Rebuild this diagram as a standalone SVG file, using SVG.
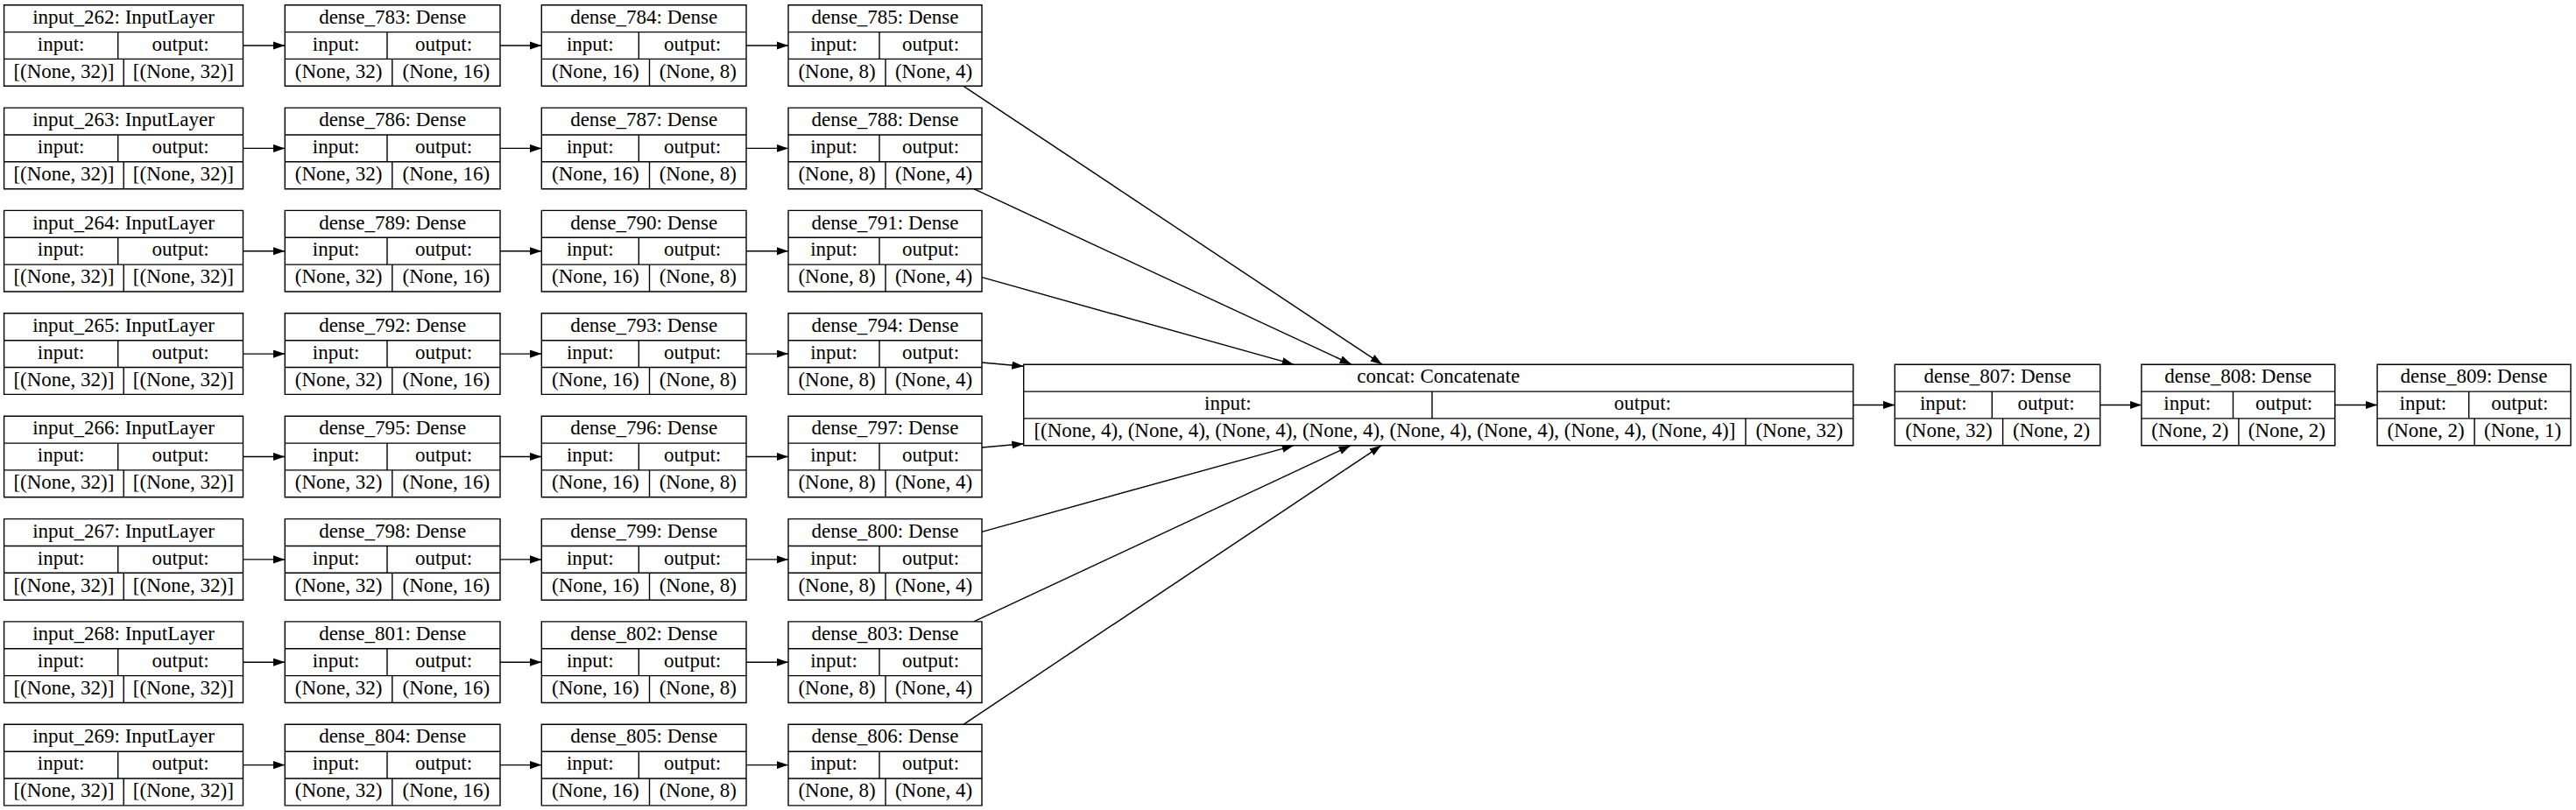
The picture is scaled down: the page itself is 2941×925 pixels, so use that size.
<svg xmlns="http://www.w3.org/2000/svg" xmlns:xlink="http://www.w3.org/1999/xlink" width="2941" height="925" viewBox="0 0 2941 925">
<style>
.f{fill:#fff;stroke:#000;stroke-width:1.4}
.t{font-family:"Liberation Serif","Times New Roman",serif;font-size:23px;text-anchor:middle;fill:#000}
.e{stroke:#000;stroke-width:1.4;fill:none;marker-end:url(#ah)}
</style>
<defs>
<marker id="ah" markerUnits="userSpaceOnUse" markerWidth="14" markerHeight="10" refX="13.4" refY="4.6" orient="auto"><path d="M0,0 L13.4,4.6 L0,9.2 z" fill="#000"/></marker>
<path id="frA" class="f" d="M4.6,0 H277.5 V92.6 H4.6 Z M4.6,30.9 H277.5 M4.6,61.7 H277.5 M134.7,30.9 V61.7 M141.2,61.7 V92.6"/>
<path id="frB" class="f" d="M325.3,0 H571 V92.6 H325.3 Z M325.3,30.9 H571 M325.3,61.7 H571 M442,30.9 V61.7 M447.8,61.7 V92.6"/>
<path id="frC" class="f" d="M618.3,0 H852 V92.6 H618.3 Z M618.3,30.9 H852 M618.3,61.7 H852 M729.3,30.9 V61.7 M741.5,61.7 V92.6"/>
<path id="frD" class="f" d="M900,0 H1121 V92.6 H900 Z M900,30.9 H1121 M900,61.7 H1121 M1004,30.9 V61.7 M1011,61.7 V92.6"/>
</defs>
<rect width="2941" height="925" fill="#fff"/>

<g id="connectors">
<line class="e" x1="277.5" y1="52.0" x2="325.3" y2="52.0"/>
<line class="e" x1="571" y1="52.0" x2="618.3" y2="52.0"/>
<line class="e" x1="852" y1="52.0" x2="900" y2="52.0"/>
<line class="e" x1="277.5" y1="169.4" x2="325.3" y2="169.4"/>
<line class="e" x1="571" y1="169.4" x2="618.3" y2="169.4"/>
<line class="e" x1="852" y1="169.4" x2="900" y2="169.4"/>
<line class="e" x1="277.5" y1="286.7" x2="325.3" y2="286.7"/>
<line class="e" x1="571" y1="286.7" x2="618.3" y2="286.7"/>
<line class="e" x1="852" y1="286.7" x2="900" y2="286.7"/>
<line class="e" x1="277.5" y1="404.1" x2="325.3" y2="404.1"/>
<line class="e" x1="571" y1="404.1" x2="618.3" y2="404.1"/>
<line class="e" x1="852" y1="404.1" x2="900" y2="404.1"/>
<line class="e" x1="277.5" y1="521.5" x2="325.3" y2="521.5"/>
<line class="e" x1="571" y1="521.5" x2="618.3" y2="521.5"/>
<line class="e" x1="852" y1="521.5" x2="900" y2="521.5"/>
<line class="e" x1="277.5" y1="638.9" x2="325.3" y2="638.9"/>
<line class="e" x1="571" y1="638.9" x2="618.3" y2="638.9"/>
<line class="e" x1="852" y1="638.9" x2="900" y2="638.9"/>
<line class="e" x1="277.5" y1="756.2" x2="325.3" y2="756.2"/>
<line class="e" x1="571" y1="756.2" x2="618.3" y2="756.2"/>
<line class="e" x1="852" y1="756.2" x2="900" y2="756.2"/>
<line class="e" x1="277.5" y1="873.6" x2="325.3" y2="873.6"/>
<line class="e" x1="571" y1="873.6" x2="618.3" y2="873.6"/>
<line class="e" x1="852" y1="873.6" x2="900" y2="873.6"/>
<line class="e" x1="1100" y1="98.3" x2="1578" y2="416.2"/>
<line class="e" x1="1111.7" y1="215.7" x2="1543" y2="416.2"/>
<line class="e" x1="1121" y1="316.7" x2="1477" y2="416.2"/>
<line class="e" x1="1121" y1="414" x2="1168.7" y2="418.3"/>
<line class="e" x1="1121" y1="511" x2="1168.7" y2="506.8"/>
<line class="e" x1="1121" y1="607.3" x2="1477" y2="508.8"/>
<line class="e" x1="1111.7" y1="709.9" x2="1542" y2="508.8"/>
<line class="e" x1="1100" y1="827.3" x2="1577" y2="508.8"/>
<line class="e" x1="2115.8" y1="462.5" x2="2163.3" y2="462.5"/>
<line class="e" x1="2397.7" y1="462.5" x2="2444.9" y2="462.5"/>
<line class="e" x1="2665.8" y1="462.5" x2="2714.1" y2="462.5"/>
</g>

<g id="input_262" transform="translate(0,5.7)"><use xlink:href="#frA"/><text class="t" x="141.05" y="21.2">input_262: InputLayer</text><text class="t" x="69.65" y="52">input:</text><text class="t" x="206.1" y="52">output:</text><text class="t" x="72.9" y="83">[(None, 32)]</text><text class="t" x="209.35" y="83">[(None, 32)]</text></g>
<g id="dense_783" transform="translate(0,5.7)"><use xlink:href="#frB"/><text class="t" x="448.15" y="21.2">dense_783: Dense</text><text class="t" x="383.65" y="52">input:</text><text class="t" x="506.5" y="52">output:</text><text class="t" x="386.55" y="83">(None, 32)</text><text class="t" x="509.4" y="83">(None, 16)</text></g>
<g id="dense_784" transform="translate(0,5.7)"><use xlink:href="#frC"/><text class="t" x="735.15" y="21.2">dense_784: Dense</text><text class="t" x="673.8" y="52">input:</text><text class="t" x="790.65" y="52">output:</text><text class="t" x="679.9" y="83">(None, 16)</text><text class="t" x="796.75" y="83">(None, 8)</text></g>
<g id="dense_785" transform="translate(0,5.7)"><use xlink:href="#frD"/><text class="t" x="1010.5" y="21.2">dense_785: Dense</text><text class="t" x="952" y="52">input:</text><text class="t" x="1062.5" y="52">output:</text><text class="t" x="955.5" y="83">(None, 8)</text><text class="t" x="1066" y="83">(None, 4)</text></g>

<g id="input_263" transform="translate(0,123.1)"><use xlink:href="#frA"/><text class="t" x="141.05" y="21.2">input_263: InputLayer</text><text class="t" x="69.65" y="52">input:</text><text class="t" x="206.1" y="52">output:</text><text class="t" x="72.9" y="83">[(None, 32)]</text><text class="t" x="209.35" y="83">[(None, 32)]</text></g>
<g id="dense_786" transform="translate(0,123.1)"><use xlink:href="#frB"/><text class="t" x="448.15" y="21.2">dense_786: Dense</text><text class="t" x="383.65" y="52">input:</text><text class="t" x="506.5" y="52">output:</text><text class="t" x="386.55" y="83">(None, 32)</text><text class="t" x="509.4" y="83">(None, 16)</text></g>
<g id="dense_787" transform="translate(0,123.1)"><use xlink:href="#frC"/><text class="t" x="735.15" y="21.2">dense_787: Dense</text><text class="t" x="673.8" y="52">input:</text><text class="t" x="790.65" y="52">output:</text><text class="t" x="679.9" y="83">(None, 16)</text><text class="t" x="796.75" y="83">(None, 8)</text></g>
<g id="dense_788" transform="translate(0,123.1)"><use xlink:href="#frD"/><text class="t" x="1010.5" y="21.2">dense_788: Dense</text><text class="t" x="952" y="52">input:</text><text class="t" x="1062.5" y="52">output:</text><text class="t" x="955.5" y="83">(None, 8)</text><text class="t" x="1066" y="83">(None, 4)</text></g>

<g id="input_264" transform="translate(0,240.4)"><use xlink:href="#frA"/><text class="t" x="141.05" y="21.2">input_264: InputLayer</text><text class="t" x="69.65" y="52">input:</text><text class="t" x="206.1" y="52">output:</text><text class="t" x="72.9" y="83">[(None, 32)]</text><text class="t" x="209.35" y="83">[(None, 32)]</text></g>
<g id="dense_789" transform="translate(0,240.4)"><use xlink:href="#frB"/><text class="t" x="448.15" y="21.2">dense_789: Dense</text><text class="t" x="383.65" y="52">input:</text><text class="t" x="506.5" y="52">output:</text><text class="t" x="386.55" y="83">(None, 32)</text><text class="t" x="509.4" y="83">(None, 16)</text></g>
<g id="dense_790" transform="translate(0,240.4)"><use xlink:href="#frC"/><text class="t" x="735.15" y="21.2">dense_790: Dense</text><text class="t" x="673.8" y="52">input:</text><text class="t" x="790.65" y="52">output:</text><text class="t" x="679.9" y="83">(None, 16)</text><text class="t" x="796.75" y="83">(None, 8)</text></g>
<g id="dense_791" transform="translate(0,240.4)"><use xlink:href="#frD"/><text class="t" x="1010.5" y="21.2">dense_791: Dense</text><text class="t" x="952" y="52">input:</text><text class="t" x="1062.5" y="52">output:</text><text class="t" x="955.5" y="83">(None, 8)</text><text class="t" x="1066" y="83">(None, 4)</text></g>

<g id="input_265" transform="translate(0,357.8)"><use xlink:href="#frA"/><text class="t" x="141.05" y="21.2">input_265: InputLayer</text><text class="t" x="69.65" y="52">input:</text><text class="t" x="206.1" y="52">output:</text><text class="t" x="72.9" y="83">[(None, 32)]</text><text class="t" x="209.35" y="83">[(None, 32)]</text></g>
<g id="dense_792" transform="translate(0,357.8)"><use xlink:href="#frB"/><text class="t" x="448.15" y="21.2">dense_792: Dense</text><text class="t" x="383.65" y="52">input:</text><text class="t" x="506.5" y="52">output:</text><text class="t" x="386.55" y="83">(None, 32)</text><text class="t" x="509.4" y="83">(None, 16)</text></g>
<g id="dense_793" transform="translate(0,357.8)"><use xlink:href="#frC"/><text class="t" x="735.15" y="21.2">dense_793: Dense</text><text class="t" x="673.8" y="52">input:</text><text class="t" x="790.65" y="52">output:</text><text class="t" x="679.9" y="83">(None, 16)</text><text class="t" x="796.75" y="83">(None, 8)</text></g>
<g id="dense_794" transform="translate(0,357.8)"><use xlink:href="#frD"/><text class="t" x="1010.5" y="21.2">dense_794: Dense</text><text class="t" x="952" y="52">input:</text><text class="t" x="1062.5" y="52">output:</text><text class="t" x="955.5" y="83">(None, 8)</text><text class="t" x="1066" y="83">(None, 4)</text></g>

<g id="input_266" transform="translate(0,475.2)"><use xlink:href="#frA"/><text class="t" x="141.05" y="21.2">input_266: InputLayer</text><text class="t" x="69.65" y="52">input:</text><text class="t" x="206.1" y="52">output:</text><text class="t" x="72.9" y="83">[(None, 32)]</text><text class="t" x="209.35" y="83">[(None, 32)]</text></g>
<g id="dense_795" transform="translate(0,475.2)"><use xlink:href="#frB"/><text class="t" x="448.15" y="21.2">dense_795: Dense</text><text class="t" x="383.65" y="52">input:</text><text class="t" x="506.5" y="52">output:</text><text class="t" x="386.55" y="83">(None, 32)</text><text class="t" x="509.4" y="83">(None, 16)</text></g>
<g id="dense_796" transform="translate(0,475.2)"><use xlink:href="#frC"/><text class="t" x="735.15" y="21.2">dense_796: Dense</text><text class="t" x="673.8" y="52">input:</text><text class="t" x="790.65" y="52">output:</text><text class="t" x="679.9" y="83">(None, 16)</text><text class="t" x="796.75" y="83">(None, 8)</text></g>
<g id="dense_797" transform="translate(0,475.2)"><use xlink:href="#frD"/><text class="t" x="1010.5" y="21.2">dense_797: Dense</text><text class="t" x="952" y="52">input:</text><text class="t" x="1062.5" y="52">output:</text><text class="t" x="955.5" y="83">(None, 8)</text><text class="t" x="1066" y="83">(None, 4)</text></g>

<g id="input_267" transform="translate(0,592.6)"><use xlink:href="#frA"/><text class="t" x="141.05" y="21.2">input_267: InputLayer</text><text class="t" x="69.65" y="52">input:</text><text class="t" x="206.1" y="52">output:</text><text class="t" x="72.9" y="83">[(None, 32)]</text><text class="t" x="209.35" y="83">[(None, 32)]</text></g>
<g id="dense_798" transform="translate(0,592.6)"><use xlink:href="#frB"/><text class="t" x="448.15" y="21.2">dense_798: Dense</text><text class="t" x="383.65" y="52">input:</text><text class="t" x="506.5" y="52">output:</text><text class="t" x="386.55" y="83">(None, 32)</text><text class="t" x="509.4" y="83">(None, 16)</text></g>
<g id="dense_799" transform="translate(0,592.6)"><use xlink:href="#frC"/><text class="t" x="735.15" y="21.2">dense_799: Dense</text><text class="t" x="673.8" y="52">input:</text><text class="t" x="790.65" y="52">output:</text><text class="t" x="679.9" y="83">(None, 16)</text><text class="t" x="796.75" y="83">(None, 8)</text></g>
<g id="dense_800" transform="translate(0,592.6)"><use xlink:href="#frD"/><text class="t" x="1010.5" y="21.2">dense_800: Dense</text><text class="t" x="952" y="52">input:</text><text class="t" x="1062.5" y="52">output:</text><text class="t" x="955.5" y="83">(None, 8)</text><text class="t" x="1066" y="83">(None, 4)</text></g>

<g id="input_268" transform="translate(0,709.9)"><use xlink:href="#frA"/><text class="t" x="141.05" y="21.2">input_268: InputLayer</text><text class="t" x="69.65" y="52">input:</text><text class="t" x="206.1" y="52">output:</text><text class="t" x="72.9" y="83">[(None, 32)]</text><text class="t" x="209.35" y="83">[(None, 32)]</text></g>
<g id="dense_801" transform="translate(0,709.9)"><use xlink:href="#frB"/><text class="t" x="448.15" y="21.2">dense_801: Dense</text><text class="t" x="383.65" y="52">input:</text><text class="t" x="506.5" y="52">output:</text><text class="t" x="386.55" y="83">(None, 32)</text><text class="t" x="509.4" y="83">(None, 16)</text></g>
<g id="dense_802" transform="translate(0,709.9)"><use xlink:href="#frC"/><text class="t" x="735.15" y="21.2">dense_802: Dense</text><text class="t" x="673.8" y="52">input:</text><text class="t" x="790.65" y="52">output:</text><text class="t" x="679.9" y="83">(None, 16)</text><text class="t" x="796.75" y="83">(None, 8)</text></g>
<g id="dense_803" transform="translate(0,709.9)"><use xlink:href="#frD"/><text class="t" x="1010.5" y="21.2">dense_803: Dense</text><text class="t" x="952" y="52">input:</text><text class="t" x="1062.5" y="52">output:</text><text class="t" x="955.5" y="83">(None, 8)</text><text class="t" x="1066" y="83">(None, 4)</text></g>

<g id="input_269" transform="translate(0,827.3)"><use xlink:href="#frA"/><text class="t" x="141.05" y="21.2">input_269: InputLayer</text><text class="t" x="69.65" y="52">input:</text><text class="t" x="206.1" y="52">output:</text><text class="t" x="72.9" y="83">[(None, 32)]</text><text class="t" x="209.35" y="83">[(None, 32)]</text></g>
<g id="dense_804" transform="translate(0,827.3)"><use xlink:href="#frB"/><text class="t" x="448.15" y="21.2">dense_804: Dense</text><text class="t" x="383.65" y="52">input:</text><text class="t" x="506.5" y="52">output:</text><text class="t" x="386.55" y="83">(None, 32)</text><text class="t" x="509.4" y="83">(None, 16)</text></g>
<g id="dense_805" transform="translate(0,827.3)"><use xlink:href="#frC"/><text class="t" x="735.15" y="21.2">dense_805: Dense</text><text class="t" x="673.8" y="52">input:</text><text class="t" x="790.65" y="52">output:</text><text class="t" x="679.9" y="83">(None, 16)</text><text class="t" x="796.75" y="83">(None, 8)</text></g>
<g id="dense_806" transform="translate(0,827.3)"><use xlink:href="#frD"/><text class="t" x="1010.5" y="21.2">dense_806: Dense</text><text class="t" x="952" y="52">input:</text><text class="t" x="1062.5" y="52">output:</text><text class="t" x="955.5" y="83">(None, 8)</text><text class="t" x="1066" y="83">(None, 4)</text></g>

<g id="concat" transform="translate(0,416.2)"><path class="f" d="M1168.7,0 H2115.8 V92.6 H1168.7 Z M1168.7,30.9 H2115.8 M1168.7,61.7 H2115.8 M1635,30.9 V61.7 M1993,61.7 V92.6"/><text class="t" x="1642.25" y="21.2">concat: Concatenate</text><text class="t" x="1401.85" y="52">input:</text><text class="t" x="1875.4" y="52">output:</text><text class="t" x="1580.85" y="83">[(None, 4), (None, 4), (None, 4), (None, 4), (None, 4), (None, 4), (None, 4), (None, 4)]</text><text class="t" x="2054.4" y="83">(None, 32)</text></g>

<g id="dense_807" transform="translate(0,416.2)"><path class="f" d="M2163.3,0 H2397.7 V92.6 H2163.3 Z M2163.3,30.9 H2397.7 M2163.3,61.7 H2397.7 M2274.3,30.9 V61.7 M2286.6,61.7 V92.6"/><text class="t" x="2280.5" y="21.2">dense_807: Dense</text><text class="t" x="2218.8" y="52">input:</text><text class="t" x="2336" y="52">output:</text><text class="t" x="2224.95" y="83">(None, 32)</text><text class="t" x="2342.15" y="83">(None, 2)</text></g>

<g id="dense_808" transform="translate(0,416.2)"><path class="f" d="M2444.9,0 H2665.8 V92.6 H2444.9 Z M2444.9,30.9 H2665.8 M2444.9,61.7 H2665.8 M2549.5,30.9 V61.7 M2555.9,61.7 V92.6"/><text class="t" x="2555.35" y="21.2">dense_808: Dense</text><text class="t" x="2497.2" y="52">input:</text><text class="t" x="2607.65" y="52">output:</text><text class="t" x="2500.4" y="83">(None, 2)</text><text class="t" x="2610.85" y="83">(None, 2)</text></g>

<g id="dense_809" transform="translate(0,416.2)"><path class="f" d="M2714.1,0 H2935 V92.6 H2714.1 Z M2714.1,30.9 H2935 M2714.1,61.7 H2935 M2818.7,30.9 V61.7 M2825.1,61.7 V92.6"/><text class="t" x="2824.55" y="21.2">dense_809: Dense</text><text class="t" x="2766.4" y="52">input:</text><text class="t" x="2876.85" y="52">output:</text><text class="t" x="2769.6" y="83">(None, 2)</text><text class="t" x="2880.05" y="83">(None, 1)</text></g>
</svg>
